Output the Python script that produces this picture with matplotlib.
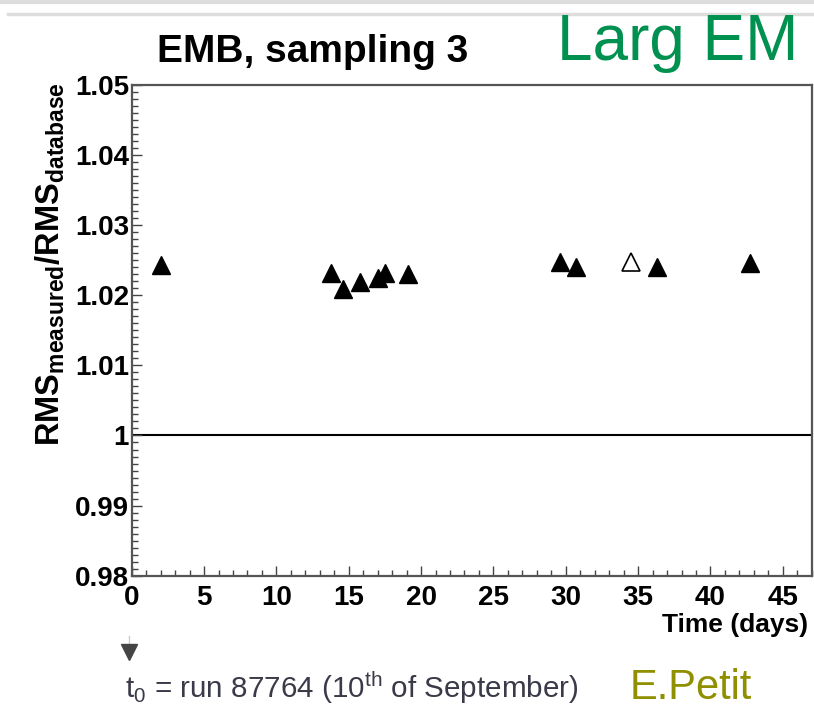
import numpy as np
import matplotlib
matplotlib.use("Agg")
import matplotlib.pyplot as plt
from matplotlib.ticker import MultipleLocator, FixedLocator
from matplotlib.lines import Line2D

plt.rcParams['font.family'] = ['Liberation Sans', 'DejaVu Sans']
plt.rcParams['mathtext.fontset'] = 'custom'
plt.rcParams['mathtext.rm'] = 'Liberation Sans'
plt.rcParams['mathtext.bf'] = 'Liberation Sans:bold'
plt.rcParams['mathtext.it'] = 'Liberation Sans:italic'

# filled points: time since t0 (days) and RMS ratio
days = [2.0, 13.74, 14.61, 15.77, 17.0, 17.49, 19.1, 29.58, 30.69, 36.3, 42.75]
ratio = [1.0243, 1.0232, 1.0209, 1.0219, 1.0224, 1.0232, 1.0231, 1.0247, 1.0240, 1.0240, 1.0246]
# open point
days_open = [34.53]
ratio_open = [1.0247]

xticks = [0, 5, 10, 15, 20, 25, 30, 35, 40, 45]
yticks = [0.98, 0.99, 1.0, 1.01, 1.02, 1.03, 1.04, 1.05]
ytick_labels = ['0.98', '0.99', '1', '1.01', '1.02', '1.03', '1.04', '1.05']

fig = plt.figure(figsize=(8.14, 7.11), dpi=100)
ax = fig.add_axes([0.1618, 0.1903, 0.8354, 0.6902])

ax.axhline(1.0, color='black', lw=1.5, zorder=1)
ax.plot(days, ratio, linestyle='none', marker='^', markersize=13,
        color='black', zorder=3)
ax.plot(days_open, ratio_open, linestyle='none', marker='^', markersize=13,
        markerfacecolor='white', markeredgecolor='black', markeredgewidth=1.2, zorder=3)

ax.set_xlim(0, 47)
ax.set_ylim(0.98, 1.05)
ax.xaxis.set_major_locator(FixedLocator(xticks))
ax.xaxis.set_minor_locator(MultipleLocator(1))
ax.yaxis.set_major_locator(FixedLocator(yticks))
ax.yaxis.set_minor_locator(MultipleLocator(0.001))
ax.set_xticklabels([str(t) for t in xticks])
ax.set_yticklabels(ytick_labels)

ax.tick_params(which='both', direction='in', color='#444444', top=False, right=False)
ax.tick_params(which='major', length=7.5, width=1.0)
ax.tick_params(which='minor', length=4, width=1.0)
ax.tick_params(axis='x', which='major', labelsize=20, pad=7)
ax.tick_params(axis='y', which='major', labelsize=20, pad=2)
for lab in ax.get_xticklabels() + ax.get_yticklabels():
    lab.set_fontweight('bold')
for s in ax.spines.values():
    s.set_color('#555555')
    s.set_linewidth(1.6)

# titles and labels
fig.text(0.193, 0.913, 'EMB, sampling 3', fontsize=28, fontweight='bold',
         ha='left', va='baseline')
fig.text(0.684, 0.9156, 'Larg EM', fontsize=46, color='#00904F',
         ha='left', va='baseline')
fig.text(0.993, 0.121, 'Time (days)', fontsize=19, fontweight='bold',
         ha='right', va='center')
fig.text(0.062, 0.885,
         r'$\mathbf{RMS}_{\mathbf{measured}}\mathbf{/RMS}_{\mathbf{database}}$',
         fontsize=23.5, rotation=90, ha='center', va='top')

# decoration lines at top of slide
fig.add_artist(Line2D([0, 1], [0.997, 0.997], color='#dddddd', lw=3))
fig.add_artist(Line2D([0.01, 1], [0.981, 0.981], color='#dddddd', lw=2.5))

# t0 arrow and note
fig.add_artist(Line2D([0.1585, 0.1585], [0.105, 0.085], color='#cccccc', lw=1))
fig.add_artist(Line2D([0.1585], [0.083], marker='v', markersize=12,
                      color='#444444', linestyle='none'))
fig.text(0.153, 0.033, r'$\mathregular{t_0}$ = run 87764 (10$^{\mathregular{th}}$ of September)',
         fontsize=21.3, color='#3a3a48', ha='left', va='center')
fig.text(0.773, 0.033, 'E.Petit', fontsize=30, color='#8F8F00',
         ha='left', va='center')

fig.savefig('out.png', dpi=100)
